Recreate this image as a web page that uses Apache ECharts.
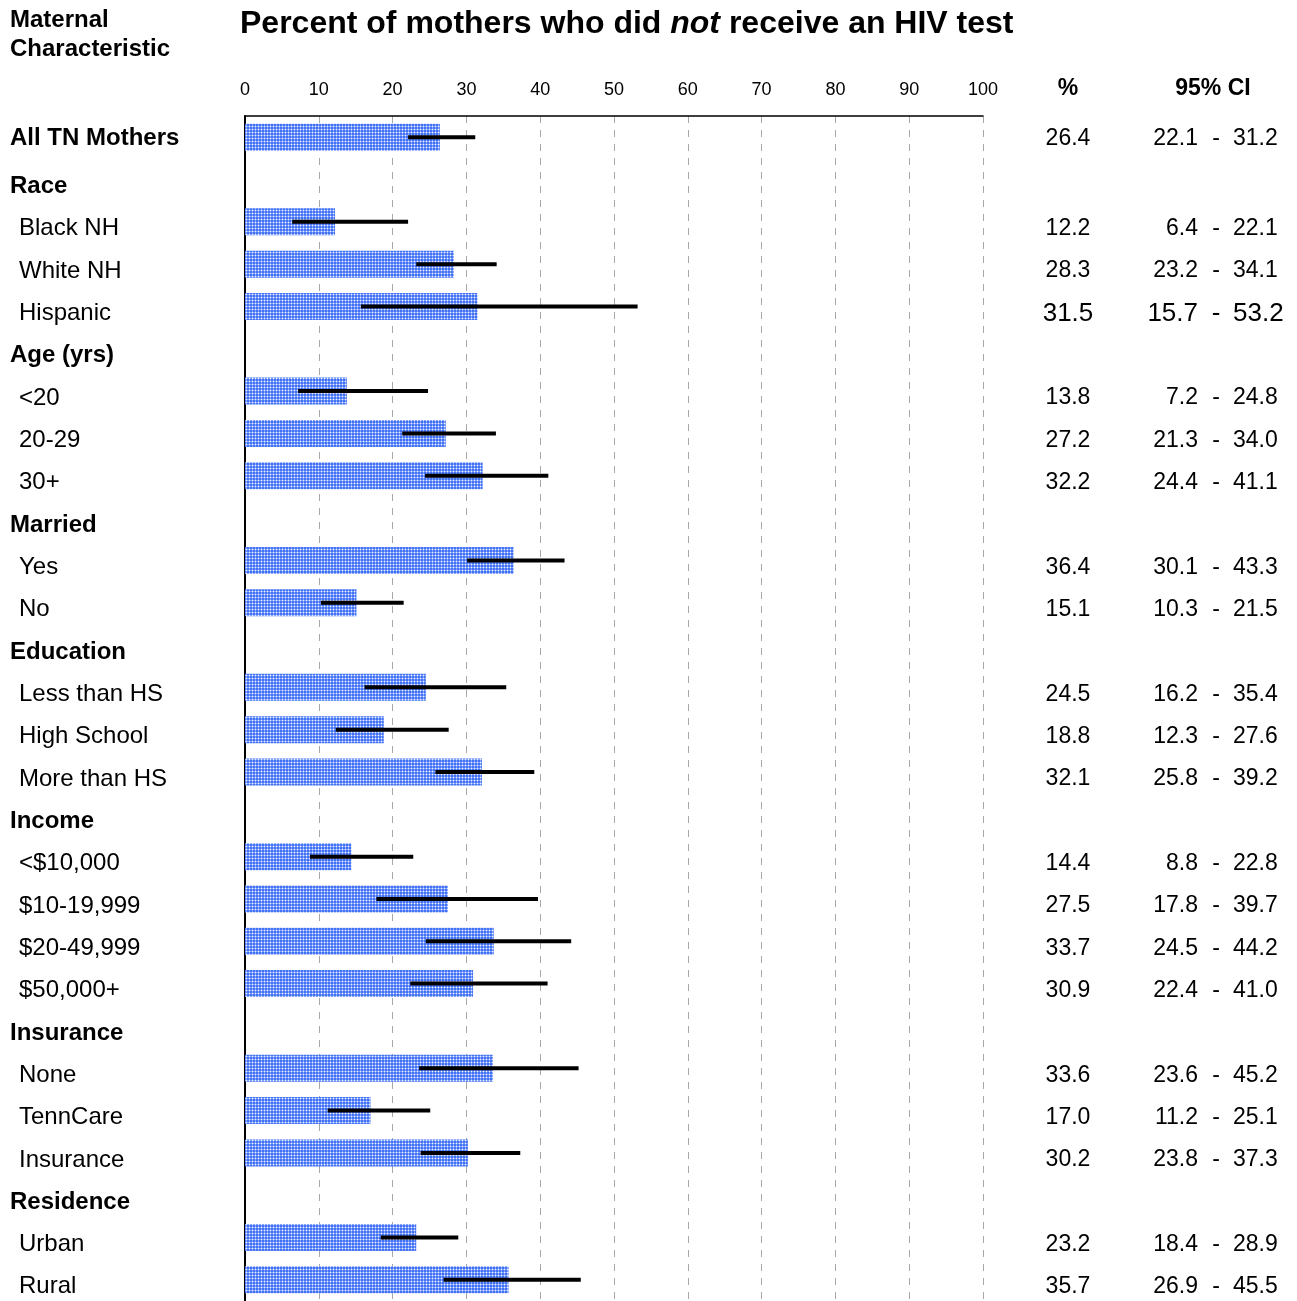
<!DOCTYPE html>
<html>
<head>
<meta charset="utf-8">
<script src="https://cdn.jsdelivr.net/npm/echarts@6/dist/echarts.min.js"></script>
<style>
html,body{margin:0;padding:0;background:#fff;}
#chart{width:1297px;height:1301px;}
</style>
</head>
<body>
<div id="chart"></div>
<script>
// ---- data ----
const labels = ['All TN Mothers','Race','Black NH','White NH','Hispanic','Age (yrs)','<20','20-29','30+','Married','Yes','No','Education','Less than HS','High School','More than HS','Income','<$10,000','$10-19,999','$20-49,999','$50,000+','Insurance','None','TennCare','Insurance','Residence','Urban','Rural'];
const rowKind = ['top','hdr','item','item','big','hdr','item','item','item','hdr','item','item','hdr','item','item','item','hdr','item','item','item','item','hdr','item','item','item','hdr','item','item'];
const pct   = [26.4,null,12.2,28.3,31.5,null,13.8,27.2,32.2,null,36.4,15.1,null,24.5,18.8,32.1,null,14.4,27.5,33.7,30.9,null,33.6,17.0,30.2,null,23.2,35.7];
const ciLow = [22.1,null,6.4,23.2,15.7,null,7.2,21.3,24.4,null,30.1,10.3,null,16.2,12.3,25.8,null,8.8,17.8,24.5,22.4,null,23.6,11.2,23.8,null,18.4,26.9];
const ciHigh= [31.2,null,22.1,34.1,53.2,null,24.8,34.0,41.1,null,43.3,21.5,null,35.4,27.6,39.2,null,22.8,39.7,44.2,41.0,null,45.2,25.1,37.3,null,28.9,45.5];
const xTicks = [0,10,20,30,40,50,60,70,80,90,100];

const FONT = "'Liberation Sans', Arial, Helvetica, sans-serif";
const NARROW = "'Liberation Sans Narrow', 'Arial Narrow', 'Liberation Sans', Arial, sans-serif";

// dotted blue pattern
const pc = document.createElement('canvas');
pc.width = 3; pc.height = 3;
const pctx = pc.getContext('2d');
pctx.fillStyle = '#4272f5';
pctx.fillRect(0,0,3,3);
pctx.fillStyle = '#86a3fa';
pctx.fillRect(0,0,3,1);
pctx.fillRect(0,0,1,3);
pctx.fillStyle = '#eef2ff';
pctx.fillRect(0,0,1,1);

const chart = echarts.init(document.getElementById('chart'), null, {renderer:'canvas'});

const idx = labels.map((_, i) => i);
const errData = idx.filter(i => ciLow[i] != null).map(i => [ciLow[i], i, ciHigh[i]]);

function fmt(v){ return v == null ? '' : v.toFixed(1); }

const PAD = 14;
const numRich = {
  n: {fontSize: 23, fontFamily: FONT, color: '#000', padding: [PAD,0,0,0]},
  t: {fontSize: 23, fontFamily: FONT, color: '#000', padding: [2,0,0,0]},
  b: {fontSize: 26, fontFamily: FONT, color: '#000', padding: [PAD,0,0,0]}
};
function styleKey(i){ return rowKind[i] === 'big' ? 'b' : (rowKind[i] === 'top' ? 't' : 'n'); }

function rightAxis(margin, align, getText){
  return {
    type: 'category', data: labels, inverse: true, position: 'right',
    axisLine: {show: false}, axisTick: {show: false}, splitLine: {show: false},
    axisLabel: {
      interval: 0, margin: margin, align: align, color: '#000',
      formatter: (v, i) => {
        const t = getText(i);
        return t === '' ? '' : '{' + styleKey(i) + '|' + t + '}';
      },
      rich: numRich
    }
  };
}

const option = {
  animation: false,
  backgroundColor: '#fff',
  textStyle: {fontFamily: FONT},
  grid: {left: 245, right: 314, top: 116, bottom: -1, containLabel: false},
  xAxis: {
    type: 'value', position: 'top', min: 0, max: 100, interval: 10,
    axisLine: {show: true, onZero: false, lineStyle: {color: '#000', width: 1.5}},
    axisTick: {show: false},
    axisLabel: {color: '#000', fontSize: 18, fontFamily: NARROW, margin: 17,
      formatter: v => xTicks.indexOf(v) >= 0 ? String(v) : ''},
    splitLine: {show: true, lineStyle: {color: '#a8a8a8', width: 1, type: [7, 7]}}
  },
  yAxis: [
    {
      type: 'category', data: labels, inverse: true, position: 'left',
      axisLine: {show: true, lineStyle: {color: '#000', width: 2}},
      axisTick: {show: false},
      axisLabel: {
        interval: 0, margin: 235, align: 'left', color: '#000',
        formatter: (v, i) => '{' + (rowKind[i] === 'big' ? 'item' : rowKind[i]) + '|' + v + '}',
        rich: {
          top:  {fontSize: 24, fontWeight: 'bold', fontFamily: FONT, color: '#000', padding: [2,0,0,0]},
          hdr:  {fontSize: 24, fontWeight: 'bold', fontFamily: FONT, color: '#000', padding: [PAD,0,0,0]},
          item: {fontSize: 24, fontFamily: FONT, color: '#000', padding: [PAD,0,0,9]}
        }
      }
    },
    rightAxis(85, 'center', i => fmt(pct[i])),
    rightAxis(215, 'right', i => fmt(ciLow[i])),
    rightAxis(233, 'center', i => pct[i] == null ? '' : '-'),
    rightAxis(250, 'left', i => fmt(ciHigh[i]))
  ],
  series: [
    {
      type: 'bar', yAxisIndex: 0, data: pct, barWidth: 27,
      itemStyle: {color: {image: pc, repeat: 'repeat'}},
      silent: true
    },
    {
      type: 'custom', yAxisIndex: 0, data: errData,
      renderItem: (params, api) => {
        const p1 = api.coord([api.value(0), api.value(1)]);
        const p2 = api.coord([api.value(2), api.value(1)]);
        return {type: 'line', shape: {x1: p1[0], y1: p1[1], x2: p2[0], y2: p2[1]},
                style: {stroke: '#000', lineWidth: 4}};
      },
      encode: {x: [0, 2], y: 1},
      z: 5, silent: true
    }
  ],
  graphic: [
    {type: 'text', x: 10, y: 20, style: {text: 'Maternal', font: 'bold 24px ' + FONT, fill: '#000', verticalAlign: 'middle'}},
    {type: 'text', x: 10, y: 49, style: {text: 'Characteristic', font: 'bold 24px ' + FONT, fill: '#000', verticalAlign: 'middle'}},
    {type: 'text', x: 240, y: 24, style: {
      text: '{b|Percent of mothers who did }{i|not}{b| receive an HIV test}',
      verticalAlign: 'middle',
      rich: {
        b: {font: 'bold 32px ' + FONT, fill: '#000'},
        i: {font: 'italic bold 32px ' + FONT, fill: '#000'}
      }}},
    {type: 'text', x: 1068, y: 89, style: {text: '%', font: 'bold 23px ' + FONT, fill: '#000', align: 'center', verticalAlign: 'middle'}},
    {type: 'text', x: 1213, y: 89, style: {text: '95% CI', font: 'bold 23px ' + FONT, fill: '#000', align: 'center', verticalAlign: 'middle'}}
  ]
};
chart.setOption(option);
</script>
</body>
</html>
